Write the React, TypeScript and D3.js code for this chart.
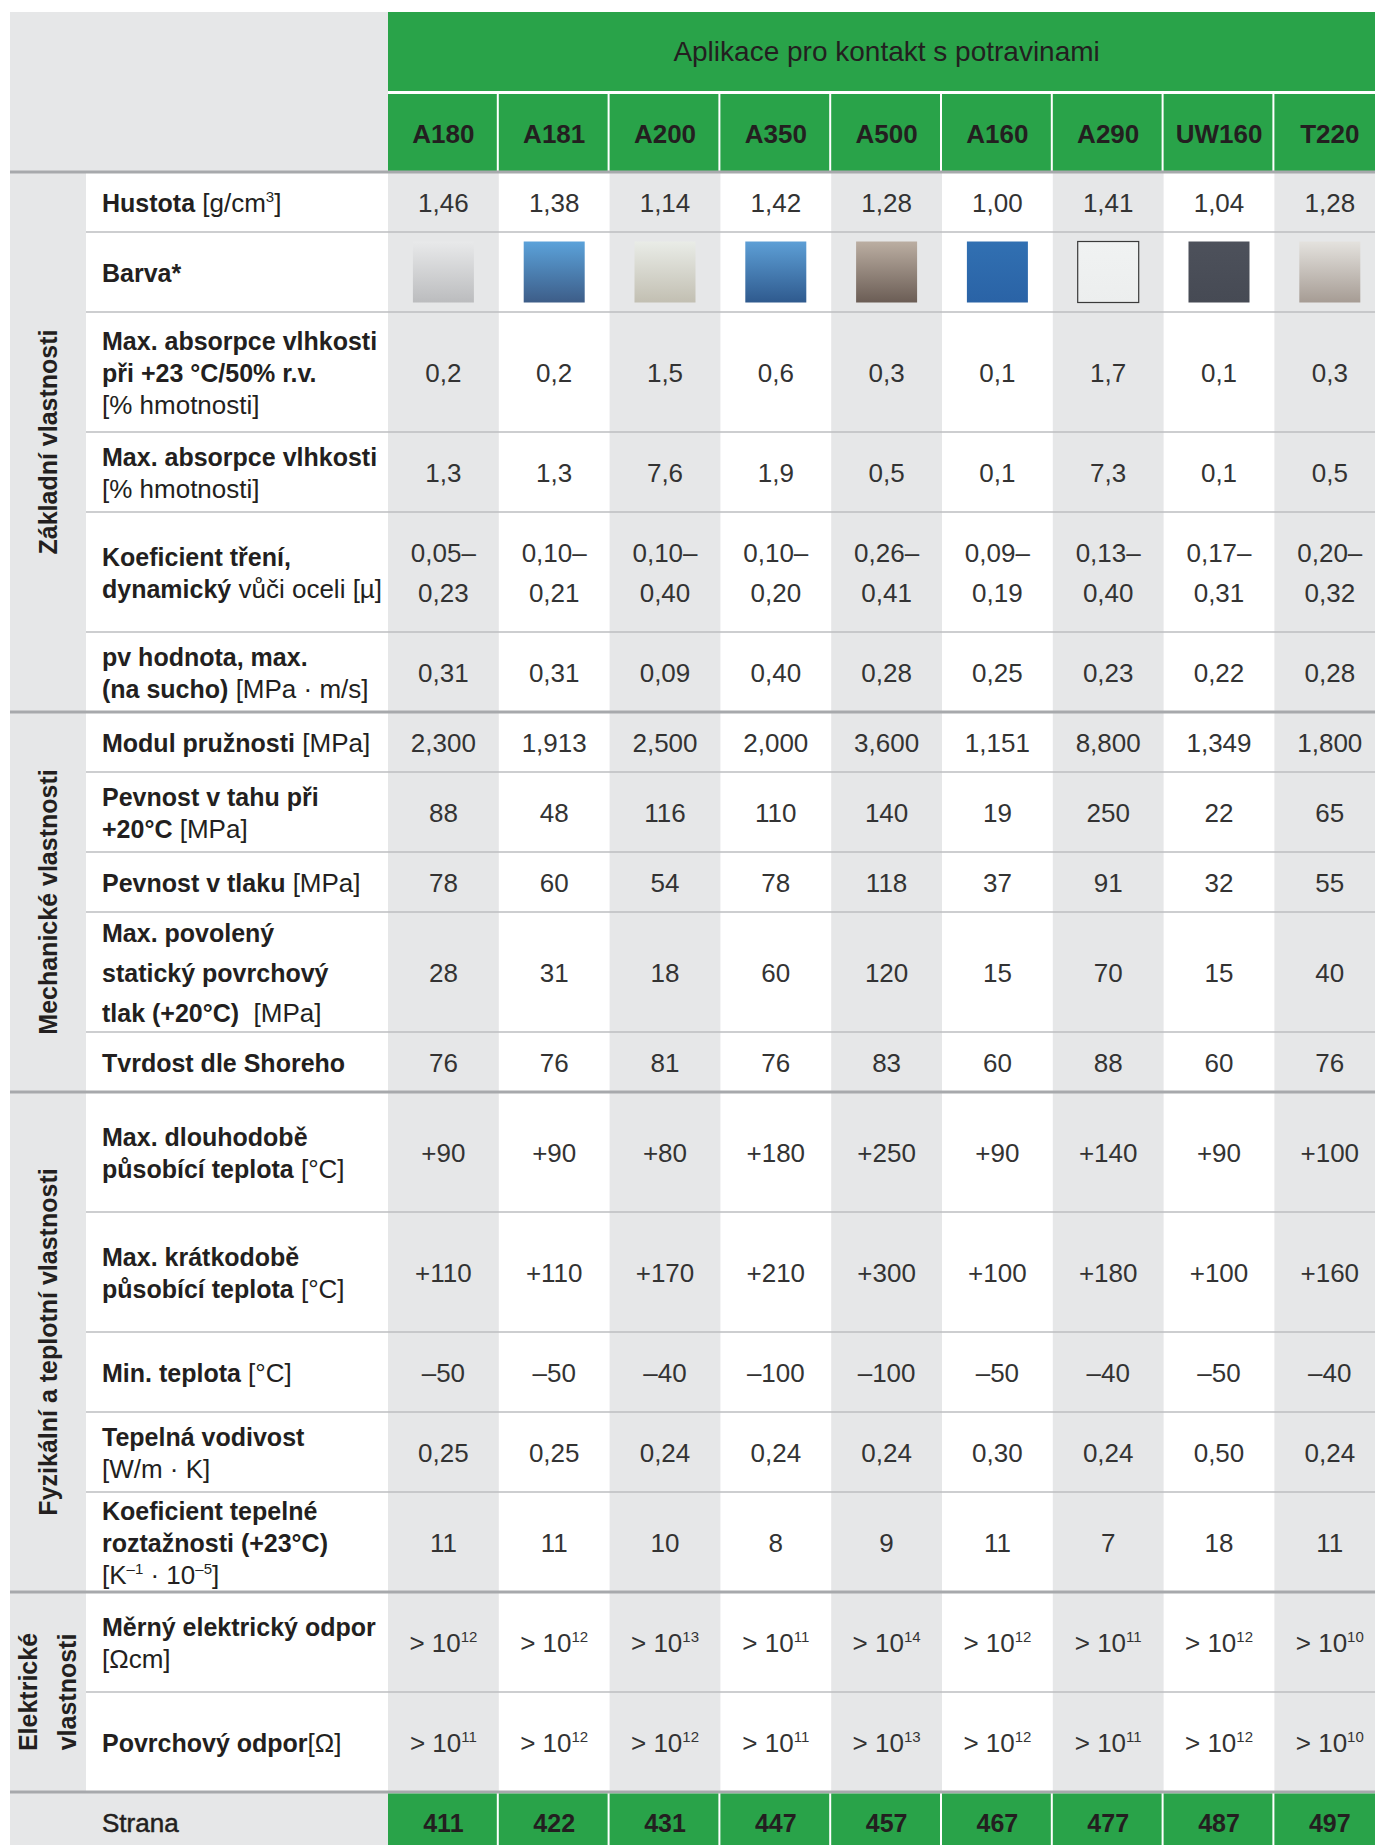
import React from 'react';
import * as d3 from 'd3';

// ---------- DATA ----------
const headerTitle = 'Aplikace pro kontakt s potravinami';
const materials = ['A180', 'A181', 'A200', 'A350', 'A500', 'A160', 'A290', 'UW160', 'T220'];

const hustota = ['1,46', '1,38', '1,14', '1,42', '1,28', '1,00', '1,41', '1,04', '1,28'];
const swatchTop = ['#e8e9ea', '#5ba2da', '#e9ece7', '#5d9fd6', '#bbaea2', '#3170b2', '#f0f2f2', '#4d515b', '#e4e2de'];
const swatchBottom = ['#bbbcbe', '#3d5d88', '#c2bfb2', '#2f5a8e', '#6b5d55', '#2a63a6', '#eceeee', '#464a54', '#a69c94'];
const absorpce23 = ['0,2', '0,2', '1,5', '0,6', '0,3', '0,1', '1,7', '0,1', '0,3'];
const absorpceMax = ['1,3', '1,3', '7,6', '1,9', '0,5', '0,1', '7,3', '0,1', '0,5'];
const treniOd = ['0,05–', '0,10–', '0,10–', '0,10–', '0,26–', '0,09–', '0,13–', '0,17–', '0,20–'];
const treniDo = ['0,23', '0,21', '0,40', '0,20', '0,41', '0,19', '0,40', '0,31', '0,32'];
const pvHodnota = ['0,31', '0,31', '0,09', '0,40', '0,28', '0,25', '0,23', '0,22', '0,28'];
const modul = ['2,300', '1,913', '2,500', '2,000', '3,600', '1,151', '8,800', '1,349', '1,800'];
const pevnostTah = ['88', '48', '116', '110', '140', '19', '250', '22', '65'];
const pevnostTlak = ['78', '60', '54', '78', '118', '37', '91', '32', '55'];
const povrchovyTlak = ['28', '31', '18', '60', '120', '15', '70', '15', '40'];
const tvrdost = ['76', '76', '81', '76', '83', '60', '88', '60', '76'];
const teplotaDlouho = ['+90', '+90', '+80', '+180', '+250', '+90', '+140', '+90', '+100'];
const teplotaKratko = ['+110', '+110', '+170', '+210', '+300', '+100', '+180', '+100', '+160'];
const teplotaMin = ['–50', '–50', '–40', '–100', '–100', '–50', '–40', '–50', '–40'];
const vodivost = ['0,25', '0,25', '0,24', '0,24', '0,24', '0,30', '0,24', '0,50', '0,24'];
const roztaznost = ['11', '11', '10', '8', '9', '11', '7', '18', '11'];
const merOdporExp = ['12', '12', '13', '11', '14', '12', '11', '12', '10'];
const povrchOdporExp = ['11', '12', '12', '11', '13', '12', '11', '12', '10'];
const strana = ['411', '422', '431', '447', '457', '467', '477', '487', '497'];

// ---------- TYPES / HELPERS ----------
type Seg = { t: string; b?: boolean; sup?: boolean };
type Line = Seg[];

const B = (t: string): Seg => ({ t, b: true });
const R = (t: string): Seg => ({ t });
const S = (t: string): Seg => ({ t, sup: true });

type RowDef = {
  label: Line[];
  labelGap?: number;
  values?: (i: number) => Line[];
  valueGap?: number;
  swatch?: boolean;
  h: number;
};

const single = (arr: string[]) => (i: number): Line[] => [[R(arr[i])]];

const sections: { name: string[]; rows: RowDef[] }[] = [
  {
    name: ['Základní vlastnosti'],
    rows: [
      { label: [[B('Hustota'), R(' [g/cm'), S('3'), R(']')]], values: single(hustota), h: 60 },
      { label: [[B('Barva*')]], swatch: true, h: 80 },
      {
        label: [[B('Max. absorpce vlhkosti')], [B('při +23 °C/50% r.v.')], [R('[% hmotnosti]')]],
        values: single(absorpce23),
        h: 120,
      },
      { label: [[B('Max. absorpce vlhkosti')], [R('[% hmotnosti]')]], values: single(absorpceMax), h: 80 },
      {
        label: [[B('Koeficient tření,')], [B('dynamický'), R(' vůči oceli [µ]')]],
        values: (i) => [[R(treniOd[i])], [R(treniDo[i])]],
        valueGap: 40,
        h: 120,
      },
      { label: [[B('pv hodnota, max.')], [B('(na sucho)'), R(' [MPa · m/s]')]], values: single(pvHodnota), h: 80 },
    ],
  },
  {
    name: ['Mechanické vlastnosti'],
    rows: [
      { label: [[B('Modul pružnosti'), R(' [MPa]')]], values: single(modul), h: 60 },
      { label: [[B('Pevnost v tahu při')], [B('+20°C'), R(' [MPa]')]], values: single(pevnostTah), h: 80 },
      { label: [[B('Pevnost v tlaku'), R(' [MPa]')]], values: single(pevnostTlak), h: 60 },
      {
        label: [[B('Max. povolený')], [B('statický povrchový')], [B('tlak (+20°C)'), R('  [MPa]')]],
        labelGap: 40,
        values: single(povrchovyTlak),
        h: 120,
      },
      { label: [[B('Tvrdost dle Shoreho')]], values: single(tvrdost), h: 60 },
    ],
  },
  {
    name: ['Fyzikální a teplotní vlastnosti'],
    rows: [
      { label: [[B('Max. dlouhodobě')], [B('působící teplota'), R(' [°C]')]], values: single(teplotaDlouho), h: 120 },
      { label: [[B('Max. krátkodobě')], [B('působící teplota'), R(' [°C]')]], values: single(teplotaKratko), h: 120 },
      { label: [[B('Min. teplota'), R(' [°C]')]], values: single(teplotaMin), h: 80 },
      { label: [[B('Tepelná vodivost')], [R('[W/m · K]')]], values: single(vodivost), h: 80 },
      {
        label: [[B('Koeficient tepelné')], [B('roztažnosti (+23°C)')], [R('[K'), S('–1'), R(' · 10'), S('–5'), R(']')]],
        values: single(roztaznost),
        h: 100,
      },
    ],
  },
  {
    name: ['Elektrické', 'vlastnosti'],
    rows: [
      {
        label: [[B('Měrný elektrický odpor')], [R('[Ωcm]')]],
        values: (i) => [[R('> 10'), S(merOdporExp[i])]],
        h: 100,
      },
      {
        label: [[B('Povrchový odpor'), R('[Ω]')]],
        values: (i) => [[R('> 10'), S(povrchOdporExp[i])]],
        h: 100,
      },
    ],
  },
];

// ---------- LAYOUT ----------
const W = 1375;
const H = 1845;
const LEFT = 10;
const CAT_R = 86;
const LABEL_X = 102;
const COL_X0 = 388;
const COL_W = 110.8;
const TOP = 12;
const HEAD1_B = 91;
const HEAD2_T = 94;
const BODY_T = 172;
const FONT = '"Liberation Sans", Arial, Helvetica, sans-serif';
const GRAY = '#e6e7e8';
const GREEN = '#29a349';
const DARK = '#231f20';
const VALUE = '#333333';

const x = d3
  .scaleBand<string>()
  .domain(materials)
  .range([COL_X0, COL_X0 + COL_W * materials.length])
  .paddingInner(0)
  .paddingOuter(0);

function Rich({
  lines,
  cx,
  cy,
  gap,
  anchor,
  boldSize,
  regSize,
  color,
  offset = 9.5,
}: {
  lines: Line[];
  cx: number;
  cy: number;
  gap: number;
  anchor: 'start' | 'middle';
  boldSize: number;
  regSize: number;
  color: string;
  offset?: number;
}) {
  const n = lines.length;
  return (
    <g>
      {lines.map((line, li) => {
        const y = cy + offset + (li - (n - 1) / 2) * gap;
        let raised = false;
        return (
          <text
            key={li}
            x={cx}
            y={y}
            textAnchor={anchor}
            fontFamily={FONT}
            fill={color}
            style={{ whiteSpace: 'pre' }}
          >
            {line.map((s, si) => {
              let dy = 0;
              if (s.sup && !raised) {
                dy = -10;
                raised = true;
              } else if (!s.sup && raised) {
                dy = 10;
                raised = false;
              }
              return (
                <tspan
                  key={si}
                  dy={dy || undefined}
                  fontWeight={s.b ? 700 : 400}
                  fontSize={s.sup ? 15 : s.b ? boldSize : regSize}
                >
                  {s.t}
                </tspan>
              );
            })}
          </text>
        );
      })}
    </g>
  );
}

export default function App() {
  let y = BODY_T;
  const laidSections = sections.map((sec) => {
    const top = y;
    const rows = sec.rows.map((r) => {
      const rt = y;
      y += r.h;
      return { ...r, top: rt, bottom: y };
    });
    return { ...sec, top, bottom: y, rows };
  });
  const bodyBottom = y;
  const footTop = bodyBottom;
  const footBottom = footTop + 60;
  const colRight = COL_X0 + COL_W * materials.length;

  return (
    <svg
      width={W}
      height={H}
      viewBox={`0 0 ${W} ${H}`}
      style={{ position: 'absolute', left: 0, top: 0, background: '#ffffff' }}
    >
      <defs>
        {materials.map((m, i) => (
          <linearGradient key={m} id={`sw-${i}`} x1="0" y1="0" x2="0" y2="1">
            <stop offset="0%" stopColor={swatchTop[i]} />
            <stop offset="100%" stopColor={swatchBottom[i]} />
          </linearGradient>
        ))}
      </defs>

      {/* left gray areas */}
      <rect x={LEFT} y={TOP} width={COL_X0 - LEFT} height={BODY_T - TOP} fill={GRAY} />
      <rect x={LEFT} y={BODY_T} width={CAT_R - LEFT} height={bodyBottom - BODY_T} fill={GRAY} />
      <rect x={LEFT} y={footTop} width={COL_X0 - LEFT} height={footBottom - footTop} fill={GRAY} />

      {/* alternating column shading */}
      {materials.map((m, i) =>
        i % 2 === 0 ? (
          <rect key={m} x={x(m)} y={BODY_T} width={x.bandwidth()} height={bodyBottom - BODY_T} fill={GRAY} />
        ) : null
      )}

      {/* header */}
      <rect x={COL_X0} y={TOP} width={colRight - COL_X0} height={HEAD1_B - TOP} fill={GREEN} />
      <text
        x={(COL_X0 + colRight) / 2}
        y={(TOP + HEAD1_B) / 2 + 9.5}
        textAnchor="middle"
        fontFamily={FONT}
        fontSize={28}
        fill={DARK}
      >
        {headerTitle}
      </text>
      {materials.map((m) => (
        <g key={m}>
          <rect x={x(m)} y={HEAD2_T} width={x.bandwidth() - 2} height={BODY_T - HEAD2_T} fill={GREEN} />
          <text
            x={(x(m) as number) + x.bandwidth() / 2}
            y={(HEAD2_T + BODY_T) / 2 + 10}
            textAnchor="middle"
            fontFamily={FONT}
            fontWeight={700}
            fontSize={26}
            fill={DARK}
          >
            {m}
          </text>
        </g>
      ))}

      {/* body rows */}
      {laidSections.map((sec, si) => (
        <g key={si}>
          {sec.rows.map((r, ri) => {
            const cy = (r.top + r.bottom) / 2;
            return (
              <g key={ri}>
                {ri > 0 && (
                  <line x1={CAT_R} x2={W} y1={r.top} y2={r.top} stroke="#bcbec0" strokeWidth={1.6} />
                )}
                <Rich
                  lines={r.label}
                  cx={LABEL_X}
                  cy={cy}
                  gap={r.labelGap ?? 32}
                  anchor="start"
                  boldSize={25}
                  regSize={26}
                  color={DARK}
                />
                {r.swatch
                  ? materials.map((m, i) => {
                      const cx = (x(m) as number) + x.bandwidth() / 2;
                      return (
                        <rect
                          key={m}
                          x={cx - 30.5}
                          y={cy - 30.5}
                          width={61}
                          height={61}
                          fill={`url(#sw-${i})`}
                          stroke={m === 'A290' ? '#3a3a3a' : 'none'}
                          strokeWidth={1.2}
                        />
                      );
                    })
                  : materials.map((m, i) => (
                      <Rich
                        key={m}
                        lines={r.values!(i)}
                        cx={(x(m) as number) + x.bandwidth() / 2}
                        cy={cy}
                        gap={r.valueGap ?? 32}
                        anchor="middle"
                        boldSize={26}
                        regSize={26}
                        color={VALUE}
                      />
                    ))}
              </g>
            );
          })}
          {sec.name.map((nm, ni) => {
            const n = sec.name.length;
            const cx = n === 1 ? 48 : ni === 0 ? 28 : 67;
            const cy = (sec.top + sec.bottom) / 2;
            return (
              <text
                key={ni}
                transform={`translate(${cx},${cy}) rotate(-90)`}
                x={0}
                y={9}
                textAnchor="middle"
                fontFamily={FONT}
                fontWeight={700}
                fontSize={25}
                fill={DARK}
              >
                {nm}
              </text>
            );
          })}
        </g>
      ))}

      {/* thick section separators */}
      {[BODY_T, ...laidSections.map((s) => s.bottom)].map((yy, i) => (
        <line key={i} x1={LEFT} x2={W} y1={yy} y2={yy} stroke="#a7a9ac" strokeWidth={3} />
      ))}

      {/* footer */}
      <text
        x={LABEL_X}
        y={(footTop + footBottom) / 2 + 10}
        fontFamily={FONT}
        fontSize={26}
        fill={DARK}
        stroke={DARK}
        strokeWidth={0.5}
      >
        Strana
      </text>
      {materials.map((m, i) => (
        <g key={m}>
          <rect x={x(m)} y={footTop + 1.5} width={x.bandwidth() - 2} height={footBottom - footTop} fill={GREEN} />
          <text
            x={(x(m) as number) + x.bandwidth() / 2}
            y={(footTop + footBottom) / 2 + 10}
            textAnchor="middle"
            fontFamily={FONT}
            fontWeight={700}
            fontSize={25}
            fill={DARK}
          >
            {strana[i]}
          </text>
        </g>
      ))}
    </svg>
  );
}
